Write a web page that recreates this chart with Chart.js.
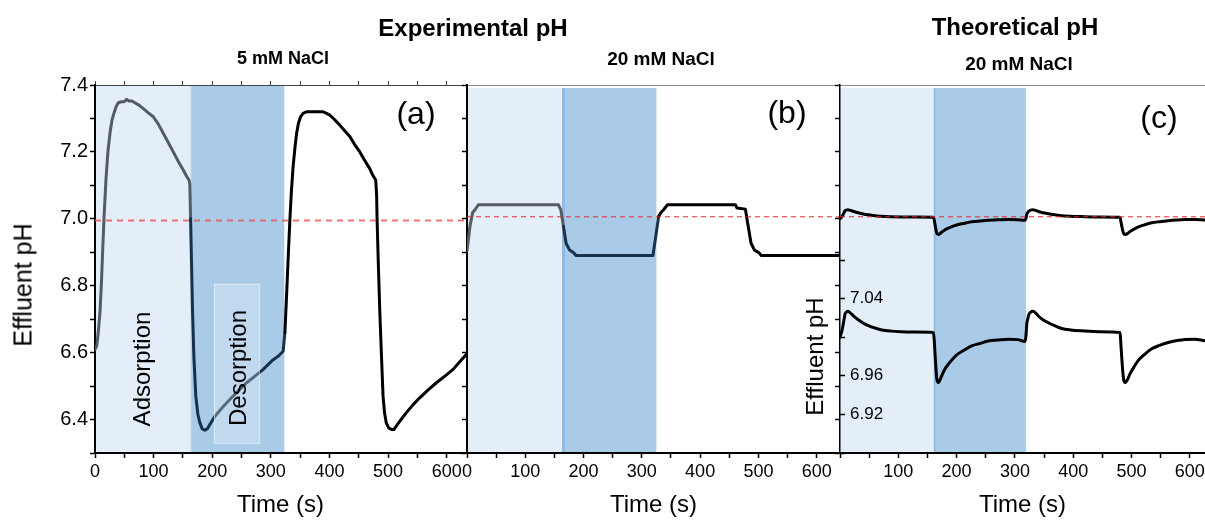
<!DOCTYPE html>
<html>
<head>
<meta charset="utf-8">
<script src="https://cdn.jsdelivr.net/npm/chart.js@4.4.1/dist/chart.umd.min.js"></script>
<style>
html, body { margin: 0; padding: 0; background: #fff; }
body { width: 1205px; height: 520px; overflow: hidden; position: relative; font-family: "Liberation Sans", Arial, sans-serif; }
canvas { position: absolute; }
.t { position: absolute; white-space: nowrap; color: #000; transform: translate(-50%, -50%); line-height: 1; }
.b { font-weight: bold; }
.rot { transform: translate(-50%, -50%) rotate(-90deg); }
</style>
</head>
<body>
<canvas id="chartA" width="480" height="520" style="left:0;top:0;width:480px;height:520px"></canvas>
<canvas id="chartB" width="401" height="520" style="left:440px;top:0;width:401px;height:520px"></canvas>
<canvas id="chartC" width="410" height="520" style="left:815px;top:0;width:410px;height:520px"></canvas>
<canvas id="chartInset" width="435" height="235" style="left:790px;top:239px;width:435px;height:235px"></canvas>

<div class="t b" style="left:473px;top:28px;font-size:24px">Experimental pH</div>
<div class="t b" style="left:1015px;top:27px;font-size:24px">Theoretical pH</div>
<div class="t b" style="left:283px;top:58px;font-size:18px">5 mM NaCl</div>
<div class="t b" style="left:661px;top:58px;font-size:19px">20 mM NaCl</div>
<div class="t b" style="left:1019px;top:63px;font-size:19px">20 mM NaCl</div>
<div class="t" style="left:416px;top:113px;font-size:32px">(a)</div>
<div class="t" style="left:787px;top:112px;font-size:32px">(b)</div>
<div class="t" style="left:1159px;top:117px;font-size:32px">(c)</div>
<div class="t rot" style="left:142px;top:369px;font-size:24px">Adsorption</div>
<div class="t rot" style="left:238px;top:368px;font-size:24px">Desorption</div>
<div class="t rot" style="left:23px;top:285px;font-size:25px">Effluent pH</div>

<script>
// (a) 実験値 5 mM NaCl
const timeA = [0, 3, 5.5, 8.5, 11, 13, 15.3, 18.8, 22, 25.6,
  29, 32.4, 36, 39.8, 45, 50, 54, 58, 63, 68,
  75, 82, 90, 99.5, 108, 116.5, 125, 133.5, 142, 150.6,
  156, 160.3, 161.8, 163.1, 164.8, 166.5, 168.7, 172, 175.6, 179,
  183, 187.5, 191.5, 196, 204.6, 217, 230, 244, 258.6, 273,
  287, 304, 313, 321, 324, 326.8, 329.5, 332.5, 335, 338,
  341, 344, 347, 350.7, 355, 361, 375, 389, 395, 400.7,
  409, 417.7, 426, 434.8, 443, 451.8, 460, 468.8, 474, 479,
  480.5, 481.3, 483.5, 486, 489, 491.5, 494, 497, 501, 505.8,
  510, 520, 531, 542, 554, 568, 582.5, 597, 611, 622,
  633];
const phA = [6.61, 6.62, 6.66, 6.72, 6.81, 6.90, 7.00, 7.12, 7.20, 7.257,
  7.295, 7.316, 7.335, 7.347, 7.35, 7.35, 7.357, 7.352, 7.352, 7.347,
  7.34, 7.33, 7.318, 7.305, 7.283, 7.256, 7.228, 7.20, 7.172, 7.146,
  7.128, 7.116, 7.105, 7.0, 6.858, 6.72, 6.589, 6.47, 6.415, 6.39,
  6.372, 6.368, 6.372, 6.385, 6.41, 6.435, 6.46, 6.485, 6.51, 6.53,
  6.55, 6.579, 6.59, 6.604, 6.66, 6.768, 6.88, 6.997, 7.08, 7.156,
  7.21, 7.256, 7.285, 7.305, 7.315, 7.32, 7.32, 7.32, 7.315, 7.31,
  7.296, 7.28, 7.263, 7.246, 7.222, 7.20, 7.175, 7.15, 7.13, 7.116,
  7.07, 6.997, 6.86, 6.72, 6.58, 6.47, 6.42, 6.39, 6.375, 6.37,
  6.37, 6.395, 6.42, 6.443, 6.465, 6.488, 6.51, 6.53, 6.55, 6.572,
  6.594];

// (b) 実験値 20 mM NaCl
const timeB = [0, 5, 9.7, 13.7, 19.5, 157, 161, 165.5, 170, 175.8, 182.6, 187.3, 319, 323,
  328.8, 332.8, 337.3, 344, 460.5, 463.4, 477.7, 481.6, 487.4, 493, 500.5, 505, 640];
const phB = [6.905, 6.977, 7.019, 7.027, 7.042, 7.042, 7.027, 6.977, 6.927, 6.907, 6.899, 6.89, 6.89, 6.937,
  7.007, 7.019, 7.027, 7.042, 7.042, 7.032, 7.029, 6.987, 6.927, 6.907, 6.899, 6.89, 6.89];

// (c) 理論値 20 mM NaCl
const timeC = [0, 3, 6, 8.6, 11, 13.2, 16, 20, 25, 31.4,
  40, 48.6, 60, 71.5, 88, 105.8, 130, 160, 161.5, 163,
  165.8, 168.6, 171, 174.4, 179, 185.8, 194, 203, 214, 226,
  240, 254.5, 270, 288.8, 305, 317.5, 319, 320.4, 322, 324.3,
  327, 330.6, 334, 340.2, 348, 357.3, 368, 380.3, 396, 414.6,
  445, 480.3, 481.5, 483.2, 486, 488.9, 492, 497.4, 504, 511.7,
  522, 534.6, 548, 563, 578, 591.8, 608, 625];
const phC = [7.000, 7.006, 7.015, 7.024, 7.026, 7.027, 7.026, 7.024, 7.021, 7.018,
  7.0145, 7.012, 7.0095, 7.0075, 7.0063, 7.0057, 7.0053, 7.005, 6.998, 6.9825,
  6.958, 6.953, 6.955, 6.960, 6.966, 6.972, 6.978, 6.983, 6.987, 6.991,
  6.9935, 6.996, 6.997, 6.998, 6.9975, 6.9956, 7.002, 7.014, 7.019, 7.024,
  7.026, 7.027, 7.026, 7.022, 7.018, 7.015, 7.012, 7.009, 7.0075, 7.0066,
  7.0057, 7.005, 6.995, 6.979, 6.958, 6.953, 6.955, 6.962, 6.969, 6.976,
  6.982, 6.988, 6.9915, 6.9945, 6.9965, 6.9977, 6.998, 6.9964];

// 吸着・脱着の区間 (s)
const adsorptionA = [0, 162], desorptionA = [162, 323];
const adsorptionB = [0, 163], desorptionB = [163, 325];
const adsorptionC = [0, 161], desorptionC = [161, 319];

// 中性ライン、軸
const neutralPH = [6.995, 7.006, 7.006];
const timeMax = [633, 640, 626];
const timeTicks = [0, 50, 100, 150, 200, 250, 300, 350, 400, 450, 500, 550, 600];
const insetTickLabels = ['7.04', '6.96', '6.92'];

Chart.defaults.font.family = '"Liberation Sans", Arial, sans-serif';
Chart.defaults.color = '#000';

const LIGHT = '#e3eef8', DARK = '#a9cbe8';

function zip(xs, ys) {
    return xs.map((x, i) => ({ x: x, y: ys[i] }));
}

function phaseColor(ads, des) {
    return ctx => {
        const x0 = ctx.p0.parsed.x;
        if (x0 < ads[1]) return '#545b63';
        if (x0 < des[1]) return '#17314b';
        return '#000';
    };
}

// 背景の区間塗り
const phaseShading = {
    id: 'phaseShading',
    beforeDraw(chart, args, opts) {
        if (!opts.bands) return;
        const { ctx, chartArea } = chart;
        const x = chart.scales.x, y = chart.scales.y;
        const top = y.getPixelForValue(opts.top);
        ctx.save();
        opts.bands.forEach(b => {
            const x0 = x.getPixelForValue(b.range[0]);
            const x1 = x.getPixelForValue(b.range[1]);
            ctx.fillStyle = b.color;
            ctx.fillRect(x0, top, x1 - x0, chartArea.bottom - top);
            if (b.edge) {
                ctx.fillStyle = b.edge;
                ctx.fillRect(x0, top, b.edgeWidth, chartArea.bottom - top);
            }
        });
        ctx.restore();
    },
    afterDatasetsDraw(chart, args, opts) {
        if (!opts.box) return;
        const { ctx } = chart;
        const x = chart.scales.x, y = chart.scales.y;
        const bx = opts.box;
        const x0 = x.getPixelForValue(bx.x[0]), x1 = x.getPixelForValue(bx.x[1]);
        const y0 = y.getPixelForValue(bx.y[1]), y1 = y.getPixelForValue(bx.y[0]);
        ctx.save();
        ctx.fillStyle = 'rgba(255,255,255,0.28)';
        ctx.fillRect(x0, y0, x1 - x0, y1 - y0);
        ctx.strokeStyle = 'rgba(255,255,255,0.55)';
        ctx.lineWidth = 1;
        ctx.strokeRect(x0 + 0.5, y0 + 0.5, x1 - x0, y1 - y0);
        ctx.restore();
    }
};
Chart.register(phaseShading);

function setTimeTicks(scale) {
    scale.ticks = timeTicks.map(v => ({ value: v }));
}

function xAxis(max, opts = {}) {
    return {
        type: 'linear', position: 'bottom', min: 0, max: max,
        afterBuildTicks: setTimeTicks,
        afterFit: s => { s.height = 67; },
        ticks: {
            padding: 3, maxRotation: 0, autoSkip: false,
            font: { size: 18 },
            callback: v => (v % 100 === 0 && !(opts.hideZero && v === 0)) ? v : ''
        },
        grid: { drawOnChartArea: false, tickLength: 5, tickColor: '#000', tickWidth: 1.5 },
        border: { color: '#000', width: 2 },
        title: { display: true, text: 'Time (s)', font: { size: 24 }, padding: { top: 0, bottom: 0 } }
    };
}

function yAxis(width, showLabels, borderWidth) {
    return {
        type: 'linear', position: 'left', min: 6.3, max: 7.4,
        afterFit: s => { s.width = width; },
        ticks: {
            display: showLabels, stepSize: 0.1, padding: 2, font: { size: 20 },
            callback: v => Math.round(v * 10) % 2 === 0 ? v.toFixed(1) : ''
        },
        grid: { drawOnChartArea: false, tickLength: 5, tickColor: '#000', tickWidth: 1.5 },
        border: { color: '#000', width: borderWidth }
    };
}

function topAxis(max, withTicks) {
    return {
        type: 'linear', position: 'top', min: 0, max: max,
        afterBuildTicks: setTimeTicks,
        afterFit: s => { s.height = withTicks ? 4 : 0; },
        ticks: { display: false },
        grid: { drawOnChartArea: false, drawTicks: withTicks, tickLength: 4, tickColor: '#444' },
        border: { color: withTicks ? '#444' : '#8a8a8a', width: 1 }
    };
}

function curve(xs, ys, color, extra = {}) {
    return Object.assign({
        data: zip(xs, ys), borderColor: color, borderWidth: 3,
        pointRadius: 0, tension: 0, fill: false,
        borderJoinStyle: 'round', borderCapStyle: 'round'
    }, extra);
}

function refLine(level, max, color, width, dash) {
    return {
        data: [{ x: 0, y: level }, { x: max, y: level }],
        borderColor: color, borderWidth: width, borderDash: dash,
        pointRadius: 0, fill: false
    };
}

function build(id, datasets, scales, padding, shading) {
    new Chart(document.getElementById(id), {
        type: 'line',
        data: { datasets: datasets },
        options: {
            responsive: false, animation: false, events: [], parsing: false,
            layout: { padding: padding },
            scales: scales,
            plugins: {
                legend: { display: false },
                tooltip: { enabled: false },
                phaseShading: shading
            }
        }
    });
}

// (a)
build('chartA', [
    refLine(neutralPH[0], timeMax[0], 'rgba(240,80,80,0.8)', 2, [6, 5]),
    curve(timeA, phA, '#000', { segment: { borderColor: phaseColor(adsorptionA, desorptionA) } })
], {
    x: xAxis(timeMax[0]),
    xTop: topAxis(timeMax[0], true),
    y: yAxis(95, true, 2)
}, { top: 81, right: 14, bottom: 0, left: 0 }, {
    top: 7.4,
    bands: [
        { range: adsorptionA, color: LIGHT },
        { range: desorptionA, color: DARK, edge: 'rgba(255,255,255,0.45)', edgeWidth: 1.5 }
    ],
    box: { x: [203, 280], y: [6.33, 6.806] }
});

// (b)
build('chartB', [
    refLine(neutralPH[1], timeMax[1], '#e8262a', 1, [5, 4]),
    curve(timeB, phB, '#000', { segment: { borderColor: phaseColor(adsorptionB, desorptionB) } })
], {
    x: xAxis(timeMax[1]),
    xTop: topAxis(timeMax[1], false),
    y: yAxis(27, false, 2)
}, { top: 85, right: 1, bottom: 0, left: 0 }, {
    top: 7.391,
    bands: [
        { range: adsorptionB, color: LIGHT },
        { range: desorptionB, color: DARK, edge: '#8fbbe6', edgeWidth: 3 }
    ]
});

// (c)
build('chartC', [
    refLine(neutralPH[2], timeMax[2], '#e8262a', 1, [5, 4]),
    curve(timeC, phC, '#000', { cubicInterpolationMode: 'monotone' })
], {
    x: xAxis(timeMax[2], { hideZero: true }),
    xTop: topAxis(timeMax[2], false),
    y: yAxis(25, false, 1.5)
}, { top: 85, right: 20, bottom: 0, left: 0 }, {
    top: 7.391,
    bands: [
        { range: adsorptionC, color: LIGHT },
        { range: desorptionC, color: DARK, edge: '#86b6e4', edgeWidth: 1.5 }
    ]
});

// (c) 拡大図
build('chartInset', [
    curve(timeC, phC, '#000', { cubicInterpolationMode: 'monotone' })
], {
    x: { type: 'linear', display: false, min: 0, max: timeMax[2] },
    y: {
        type: 'linear', position: 'left', min: 6.88, max: 7.08,
        afterFit: s => { s.width = 50; },
        ticks: {
            stepSize: 0.02, mirror: true, padding: 10, font: { size: 17 },
            callback: v => insetTickLabels.includes(v.toFixed(2)) ? v.toFixed(2) : ''
        },
        grid: { drawOnChartArea: false, tickLength: -5, tickColor: '#000', tickWidth: 1.5 },
        border: { display: false },
        title: { display: true, text: 'Effluent pH', font: { size: 24 }, padding: { top: 12, bottom: 0 } }
    }
}, { top: 21, right: 20, bottom: 21, left: 0 }, {});
</script>
</body>
</html>
